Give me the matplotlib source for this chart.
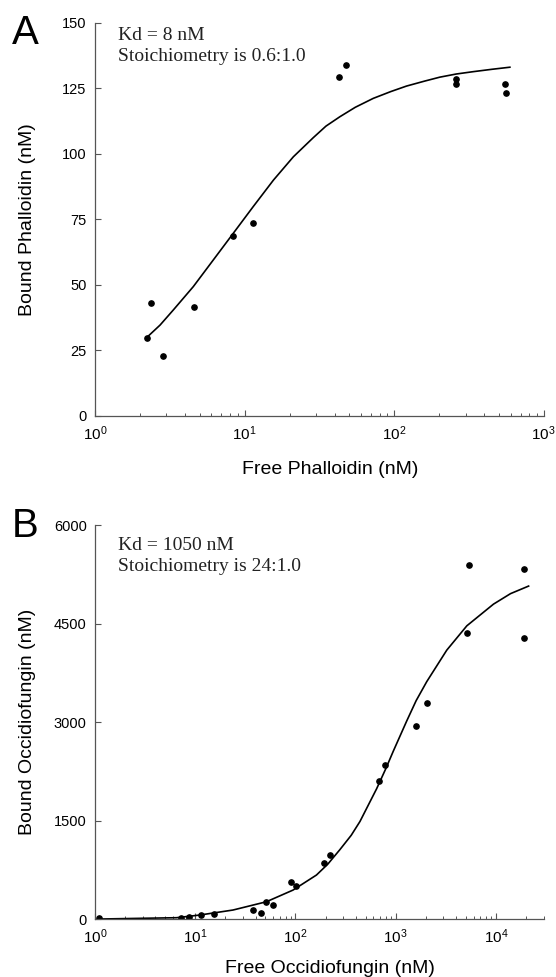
import matplotlib
matplotlib.use('Agg')
import matplotlib.pyplot as plt
from matplotlib.ticker import LogLocator, NullFormatter

plt.rcParams['font.family'] = ['Liberation Sans', 'DejaVu Sans']
plt.rcParams['mathtext.fontset'] = 'custom'
plt.rcParams['mathtext.rm'] = 'Liberation Sans'
plt.rcParams['mathtext.it'] = 'Liberation Sans'

# Panel A: phalloidin binding
phal_free = [2.21, 2.38, 2.84, 4.56, 8.36, 11.4, 43.0, 48.0, 258, 258, 553, 559]
phal_bound = [29.8, 43.2, 22.8, 41.6, 68.5, 73.7, 129.4, 134.1, 128.5, 126.6, 126.7, 123.1]
# fitted curve
phal_fit_x = [2.22, 2.72, 3.34, 4.54, 6.18, 8.41, 11.4, 15.6, 21.2, 28.8, 35.0, 43.4,
              55.0, 72.5, 95.0, 121, 160, 202, 260, 338, 450, 594]
phal_fit_y = [29.9, 34.6, 40.4, 49.3, 59.5, 69.7, 79.8, 90.0, 98.9, 106.2, 110.6, 114.2,
              117.8, 121.2, 123.8, 125.9, 127.8, 129.3, 130.5, 131.4, 132.3, 133.1]

# Panel B: occidiofungin binding
occ_free = [1.1, 7.28, 8.65, 11.5, 15.3, 37.6, 45.7, 51.3, 59.3, 89.3, 102, 191, 219,
            687, 791, 1607, 2070, 5130, 5380, 18900, 18900]
occ_bound = [15, 20, 30, 70, 85, 137, 101, 263, 218, 573, 512, 862, 979,
             2106, 2350, 2948, 3289, 4364, 5400, 4284, 5334]
occ_fit_x = [1.11, 6.5, 11.0, 23.8, 51.3, 94.6, 162, 210, 277, 360, 440, 646, 800,
             946, 1288, 1600, 2042, 3236, 5130, 9460, 14000, 21200]
occ_fit_y = [5, 25, 65, 142, 268, 446, 675, 840, 1060, 1280, 1490, 1990, 2300,
             2560, 3020, 3330, 3620, 4100, 4470, 4800, 4960, 5075]

spine_col = '#555555'


def style_axes(ax):
    ax.set_xscale('log')
    for s in ['top', 'right']:
        ax.spines[s].set_visible(False)
    for s in ['left', 'bottom']:
        ax.spines[s].set_color(spine_col)
        ax.spines[s].set_linewidth(0.9)
    ax.tick_params(which='major', direction='in', length=4, width=0.8, color=spine_col,
                   labelsize=10.5, pad=6)
    ax.tick_params(axis='x', which='major', labelsize=11)
    ax.tick_params(which='minor', direction='in', length=2, width=0.7, color=spine_col)
    ax.xaxis.set_major_locator(LogLocator(base=10, numticks=10))
    ax.xaxis.set_minor_locator(LogLocator(base=10, subs=range(2, 10), numticks=100))
    ax.xaxis.set_minor_formatter(NullFormatter())


fig = plt.figure(figsize=(5.56, 9.77), dpi=100)

axA = fig.add_axes([0.1709, 0.5745, 0.807, 0.402])
style_axes(axA)
axA.plot(phal_fit_x, phal_fit_y, color='black', lw=1.2)
axA.plot(phal_free, phal_bound, 'o', color='black', ms=3.8)
axA.set_xlim(1, 1000)
axA.set_ylim(0, 150)
axA.set_yticks([0, 25, 50, 75, 100, 125, 150])
axA.set_xlabel('Free Phalloidin (nM)', fontsize=14)
axA.xaxis.set_label_coords(0.524, -0.115)
axA.set_ylabel('Bound Phalloidin (nM)', fontsize=14, va='center')
axA.yaxis.set_label_coords(-0.150, 0.5)
axA.text(0.051, 0.99, 'Kd = 8 nM\nStoichiometry is 0.6:1.0', transform=axA.transAxes,
         family='Liberation Serif', fontsize=14, va='top', ha='left', linespacing=1.3,
         color='#222222')

axB = fig.add_axes([0.1709, 0.0590, 0.807, 0.4033])
style_axes(axB)
axB.plot(occ_fit_x, occ_fit_y, color='black', lw=1.2)
axB.plot(occ_free, occ_bound, 'o', color='black', ms=3.8)
axB.set_xlim(1, 30000)
axB.set_ylim(0, 6000)
axB.set_yticks([0, 1500, 3000, 4500, 6000])
axB.set_xlabel('Free Occidiofungin (nM)', fontsize=14)
axB.xaxis.set_label_coords(0.524, -0.104)
axB.set_ylabel('Bound Occidiofungin (nM)', fontsize=14, va='center')
axB.yaxis.set_label_coords(-0.150, 0.5)
axB.text(0.051, 0.97, 'Kd = 1050 nM\nStoichiometry is 24:1.0', transform=axB.transAxes,
         family='Liberation Serif', fontsize=14, va='top', ha='left', linespacing=1.3,
         color='#222222')

fig.text(12 / 556, 1 - 14 / 977, 'A', fontsize=29, va='top', ha='left')
fig.text(12 / 556, 1 - 507 / 977, 'B', fontsize=29, va='top', ha='left')

fig.savefig('out.png', dpi=100)
